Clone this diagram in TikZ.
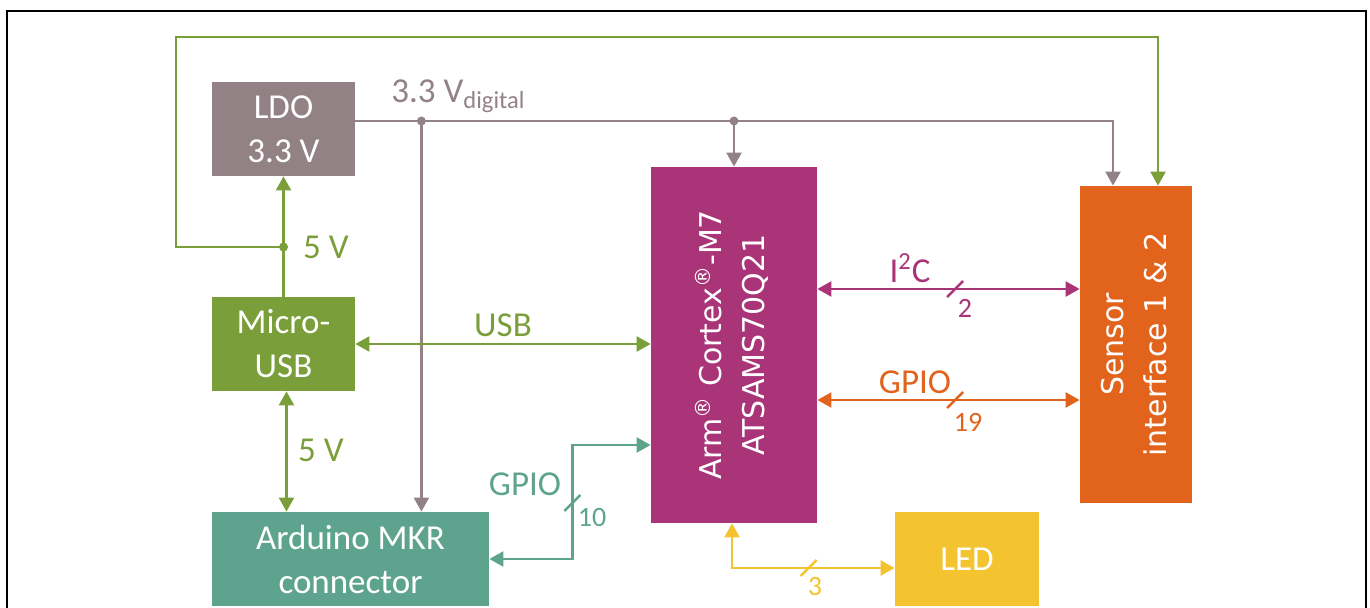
\documentclass[tikz,border=0pt]{standalone}
\usepackage{fontspec}
\setmainfont{Carlito}
\newfontfamily\chipfont{DejaVu Sans}
\usetikzlibrary{arrows.meta, calc}
\definecolor{ldogray}{HTML}{938285}
\definecolor{usbgreen}{HTML}{7A9E3A}
\definecolor{mkrteal}{HTML}{5EA38D}
\definecolor{mcumag}{HTML}{A93578}
\definecolor{senorange}{HTML}{E2641C}
\definecolor{ledyellow}{HTML}{F4C430}
\newcommand{\busmark}[2]{\draw[wire, #1] ($(#2)+(-8,8)$) -- ($(#2)+(8,-8)$);}

\begin{document}
\begin{tikzpicture}[x=0.5pt, y=-0.5pt, >={Triangle[length=7pt, width=7.5pt]},
  block/.style={rectangle, inner sep=0pt, text=white, align=center, font=\fontsize{17.5}{22}\selectfont},
  chip/.style={block, font=\chipfont\fontsize{15}{21.5}\selectfont},
  wire/.style={line width=1.2pt},
  lbl/.style={font=\fontsize{17.5}{22}\selectfont},
  cnt/.style={font=\fontsize{14}{16}\selectfont},
  dot/.style={circle, fill, inner sep=0pt, minimum size=4.5pt}]
  \useasboundingbox (0,0) rectangle (1370,608);
  % frame
  \draw[line width=1pt] (6.5,608) -- (6.5,11) -- (1366,11) -- (1366,608);
  % blocks
  \node[block, fill=ldogray, minimum width=71.5pt, minimum height=47pt] (ldo) at (283.5,129) {LDO\\3.3 V};
  \node[block, fill=usbgreen, minimum width=71.5pt, minimum height=47pt] (musb) at (283.5,344) {Micro-\\USB};
  \node[block, fill=mkrteal, minimum width=138.5pt, minimum height=47pt] (mkr) at (350.5,559) {Arduino MKR\\connector};
  \node[chip, fill=mcumag, minimum width=83pt, minimum height=178pt] (mcu) at (734,345)
    {\rotatebox{90}{\begin{tabular}{@{}c@{}}Arm\textsuperscript{\textregistered} Cortex\textsuperscript{\textregistered}-M7\\ATSAMS70Q21\end{tabular}}};
  \node[chip, fill=senorange, minimum width=56pt, minimum height=158.5pt] (sens) at (1136,344.5)
    {\rotatebox{90}{\begin{tabular}{@{}c@{}}Sensor\\interface 1 \& 2\end{tabular}}};
  \node[block, fill=ledyellow, minimum width=72pt, minimum height=47pt] (led) at (967,559) {LED};
  % 5 V supply
  \coordinate (j5) at (ldo.south |- 0,247);
  \coordinate (loopc) at (176,37);
  \draw[wire, usbgreen, ->] (musb) -- (ldo);
  \draw[wire, usbgreen, ->] (j5) -| (loopc) -| ($(sens.north)+(22,0)$);
  \node[dot, usbgreen] (j5dot) at (j5) {};
  \node[lbl, text=usbgreen] (v5a) at (326,247) {5 V};
  % 3.3 V rail
  \coordinate (rail) at ($(ldo.east)+(0,-8)$);
  \coordinate (tap) at ($(rail)+(66,0)$);
  \draw[wire, ldogray, ->] (rail) -| ($(sens.north)+(-23,0)$);
  \draw[wire, ldogray, ->] (rail -| mcu.north) -- (mcu.north);
  \draw[wire, ldogray, ->] (tap) -- (tap |- mkr.north);
  \node[dot, ldogray] (tapdot) at (tap) {};
  \node[dot, ldogray] (mcudot) at (rail -| mcu.north) {};
  \node[lbl, text=ldogray, anchor=base west, inner sep=0pt] (vdig) at (391,103) {3.3 V\textsubscript{digital}};
  % USB and 5 V to MKR
  \draw[wire, usbgreen, <->] (musb.east) -- (musb.east -| mcu.west);
  \node[lbl, text=usbgreen] (usblbl) at (503,325) {USB};
  \draw[wire, usbgreen, <->] ($(musb.south)+(3,0)$) -- ($(musb.south |- mkr.north)+(3,0)$);
  \node[lbl, text=usbgreen] (v5b) at (321,450) {5 V};
  % GPIO to MKR
  \coordinate (gpin) at ($(mcu.west)+(0,100)$);
  \coordinate (gsl) at ($(mkr.east)+(83,-56)$);
  \draw[wire, mkrteal, <->] (mkr.east) -- ++(83,0) |- (gpin);
  \busmark{mkrteal}{gsl}
  \node[lbl, text=mkrteal] (mgpiolbl) at (525,484) {GPIO};
  \node[cnt, text=mkrteal] (mgpion) at (592,518) {10};
  % sensor buses
  \coordinate (i2cm) at ($(mcu.east)+(0,-56)$);
  \coordinate (gpiom) at ($(mcu.east)+(0,55)$);
  \draw[wire, mcumag, <->] (i2cm) -- coordinate[pos=.525] (i2cs) (i2cm -| sens.west);
  \draw[wire, senorange, <->] (gpiom) -- coordinate[pos=.525] (gpios) (gpiom -| sens.west);
  \busmark{mcumag}{i2cs}
  \busmark{senorange}{gpios}
  \node[lbl, text=mcumag] (i2clbl) at (910,268) {I\textsuperscript{2}C};
  \node[cnt, text=mcumag] (i2cn) at (965,308) {2};
  \node[lbl, text=senorange] (gpiolbl) at (915,382) {GPIO};
  \node[cnt, text=senorange] (gpion) at (968,422) {19};
  % LED
  \coordinate (ledin) at ($(led.west)+(0,9)$);
  \coordinate (ledsl) at ($(ledin)+(-86,0)$);
  \draw[wire, ledyellow, <->] ($(mcu.south)+(-2,0)$) |- (ledin);
  \busmark{ledyellow}{ledsl}
  \node[cnt, text=ledyellow] (ledn) at (815,587) {3};
\end{tikzpicture}
\end{document}
